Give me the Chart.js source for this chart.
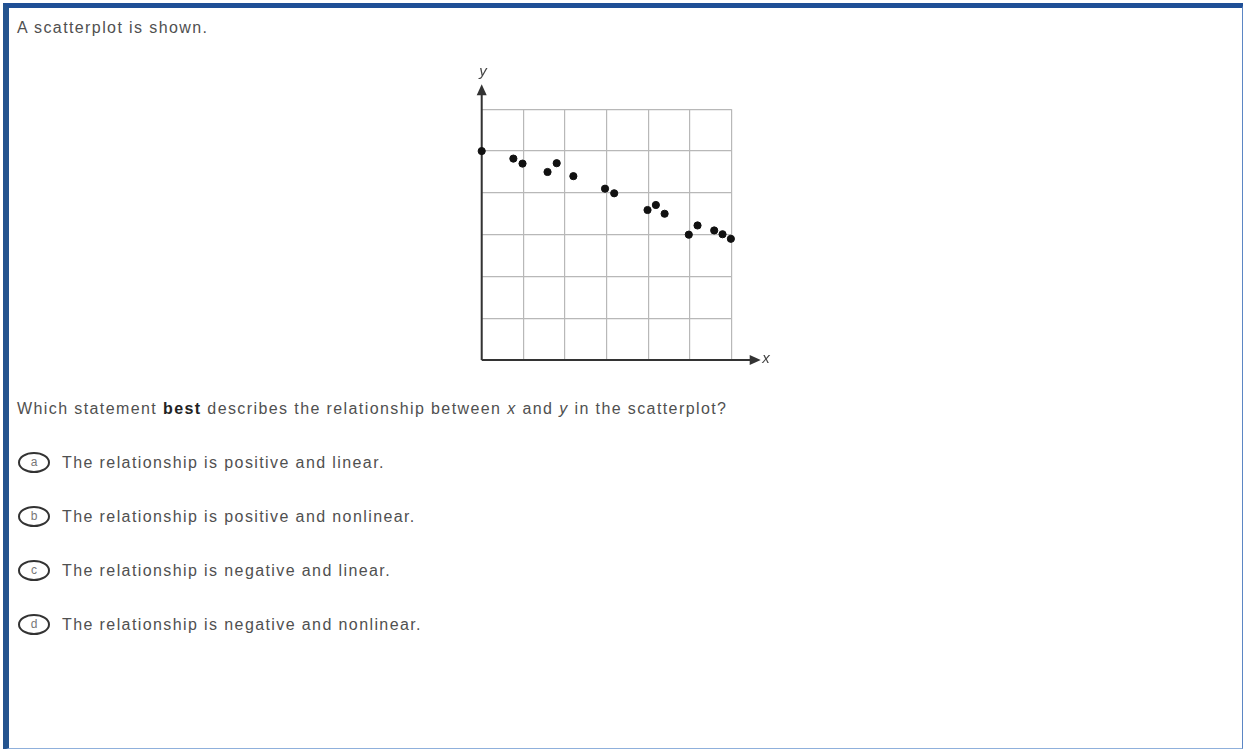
<!DOCTYPE html>
<html>
<head>
<meta charset="utf-8">
<script src="https://cdn.jsdelivr.net/npm/chart.js@4"></script>
<style>
  html,body{margin:0;padding:0;background:#fff;}
  body{width:1243px;height:749px;position:relative;overflow:hidden;font-family:"Liberation Sans",Arial,sans-serif;color:#505050;font-size:16px;letter-spacing:1.4px;}
  #frame{position:absolute;left:3px;top:3px;width:1233px;height:740px;border-top:5px solid #1f4f96;border-left:6px solid #24548f;border-right:2px solid #5b86c4;border-bottom:2px solid #8fb0dc;}
  .t{position:absolute;white-space:nowrap;line-height:18px;}
  .opt{position:absolute;left:18px;white-space:nowrap;line-height:20px;}
  .bub{display:inline-block;width:28px;height:17px;border:2px solid #333;border-radius:50%;text-align:center;line-height:17px;font-size:12px;letter-spacing:0;color:#777;vertical-align:middle;margin-right:12px;margin-top:-3px;}
  #wrap{position:absolute;left:440px;top:60px;width:340px;height:320px;}
</style>
</head>
<body>
<div id="frame"></div>
<div class="t" style="left:17px;top:19px;">A scatterplot is shown.</div>
<div id="wrap"><canvas id="grafico"></canvas></div>
<div class="t" style="left:17px;top:400px;">Which statement <b style="color:#222">best</b> describes the relationship between <i>x</i> and <i>y</i> in the scatterplot?</div>
<div class="opt" style="top:453px;"><span class="bub">a</span>The relationship is positive and linear.</div>
<div class="opt" style="top:507px;"><span class="bub">b</span>The relationship is positive and nonlinear.</div>
<div class="opt" style="top:561px;"><span class="bub">c</span>The relationship is negative and linear.</div>
<div class="opt" style="top:615px;"><span class="bub">d</span>The relationship is negative and nonlinear.</div>
<script>
const xs = [0, 0.76, 0.98, 1.58, 1.80, 2.2, 2.96, 3.18, 3.98, 4.18, 4.39, 4.97, 5.18, 5.58, 5.78, 5.98];
const ys = [5.0, 4.82, 4.70, 4.50, 4.71, 4.40, 4.10, 3.99, 3.59, 3.71, 3.50, 3.0, 3.22, 3.10, 3.01, 2.90];
const gridMax = 6;

const axesArrows = {
  id:'axesArrows',
  beforeDatasetsDraw(c){
    const ctx = c.ctx, x = c.scales.x, y = c.scales.y;
    const ox = x.getPixelForValue(0), oy = y.getPixelForValue(0);
    const yTop = y.getPixelForValue(gridMax) - 22;
    const xEnd = x.getPixelForValue(gridMax) + 26;
    ctx.save();
    ctx.strokeStyle = '#333'; ctx.fillStyle = '#333'; ctx.lineWidth = 2;
    ctx.beginPath();
    ctx.moveTo(ox, oy); ctx.lineTo(ox, yTop + 6);
    ctx.moveTo(ox, oy); ctx.lineTo(xEnd - 6, oy);
    ctx.stroke();
    ctx.beginPath();
    ctx.moveTo(ox, yTop - 3); ctx.lineTo(ox - 5, yTop + 8); ctx.lineTo(ox + 5, yTop + 8); ctx.closePath();
    ctx.fill();
    ctx.beginPath();
    ctx.moveTo(xEnd + 3, oy); ctx.lineTo(xEnd - 8, oy - 5); ctx.lineTo(xEnd - 8, oy + 5); ctx.closePath();
    ctx.fill();
    ctx.font = 'italic 15px "Liberation Sans", Arial';
    ctx.fillStyle = '#444';
    ctx.textAlign = 'center'; ctx.textBaseline = 'middle';
    ctx.fillText('y', ox + 2, yTop - 15);
    ctx.fillText('x', xEnd + 9, oy - 1);
    ctx.restore();
  }
};

new Chart(grafico, {
  type:'scatter',
  data:{
    datasets:[{
      data: xs.map((v,i)=>({x:v, y:ys[i]})),
      backgroundColor:'#111', borderColor:'#111',
      pointRadius:3.6, pointHoverRadius:3.6,
      clip:false
    }]
  },
  options:{
    responsive:true, maintainAspectRatio:false, animation:false,
    layout:{padding:{left:41.7, top:49.3, right:48.3, bottom:20}},
    plugins:{legend:{display:false}, tooltip:{enabled:false}},
    scales:{
      x:{type:'linear', min:0, max:gridMax,
         ticks:{display:false, stepSize:1},
         grid:{color:'#b8b8b8', lineWidth:1.2, drawTicks:false},
         border:{display:false}},
      y:{type:'linear', min:0, max:gridMax,
         ticks:{display:false, stepSize:1},
         grid:{color:'#b8b8b8', lineWidth:1.2, drawTicks:false},
         border:{display:false}}
    }
  },
  plugins:[axesArrows]
});
</script>
</body>
</html>
